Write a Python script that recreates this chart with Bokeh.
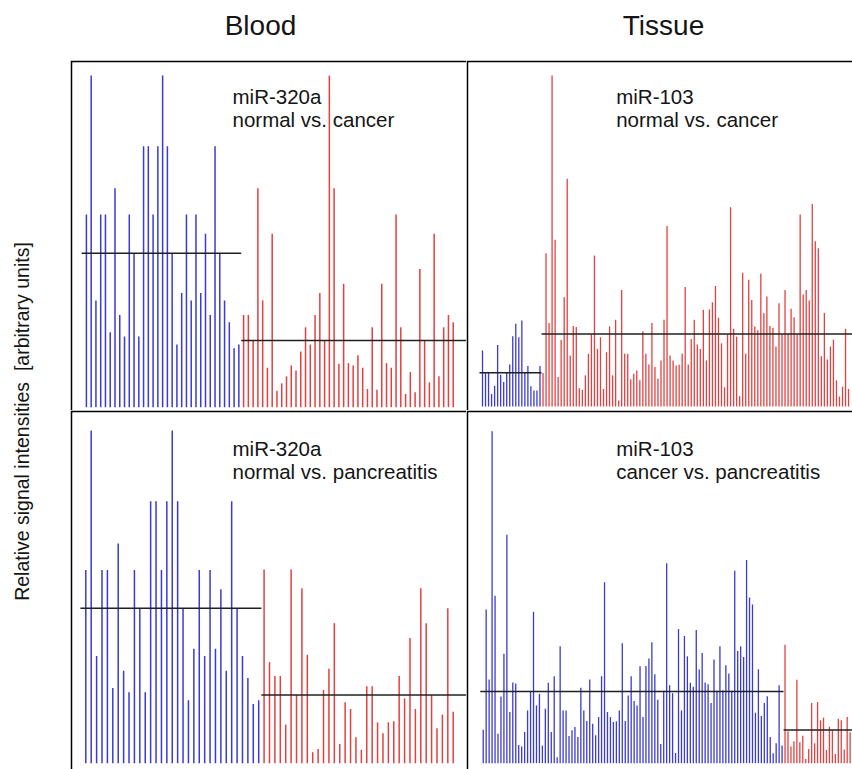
from bokeh.plotting import figure
from bokeh.models import ColumnDataSource, Range1d, Label
from bokeh.layouts import column, row
from bokeh.embed import file_html
from bokeh.resources import INLINE

# ---------------- data (relative signal intensities, arbitrary units) ----------------
blood_normal = [58.1, 100, 32.2, 58.1, 58.1, 22.6, 66.0, 27.8, 21.3, 58.1, 46.4, 21.3, 78.7,
                78.7, 58.1, 78.7, 100, 78.7, 46.4, 18.9, 34.4, 58.1, 32.2, 58.1, 34.4, 52.3,
                27.8, 78.7, 46.4, 32.2, 25.6, 17.8, 18.9]
blood_cancer = [27.8, 27.8, 20.1, 66.0, 32.2, 11.9, 52.3, 5.0, 7.2, 9.3, 12.6, 11.1, 16.8, 24.1,
                18.9, 27.8, 34.4, 20.1, 100, 66.0, 13.1, 37.2, 13.3, 12.6, 15.7, 11.9, 5.5, 24.1,
                5.3, 37.2, 13.3, 11.9, 58.1, 24.1, 4.0, 10.6, 4.5, 41.7, 20.1, 7.5, 52.3, 9.3,
                24.1, 27.8, 25.6]
blood_pancreatitis = [58.2, 30.4, 26.2, 26.2, 11.6, 58.2, 20.5, 52.6, 32.6, 3.3, 4.3, 22.0, 28.4,
                      42.1, 5.8, 18.3, 16.3, 7.8, 4.0, 23.1, 23.1, 12.3, 9.0, 12.3, 12.6, 26.2,
                      19.5, 37.6, 16.3, 52.6, 42.1, 20.5, 10.5, 14.6, 46.6, 15.5]
tissue_normal = [16.9, 10.1, 10.1, 3.8, 6.3, 18.6, 9.6, 7.4, 10.1, 12.7, 21.2, 25.0, 20.9, 26.0,
                 10.1, 12.2, 6.1, 4.8, 4.8, 12.2]
tissue_cancer = [10.1, 46.3, 25.2, 100, 50.4, 8.9, 20.1, 33.0, 68.8, 15.4, 24.3, 24.0, 5.5, 5.0,
                 9.4, 15.9, 21.8, 45.6, 17.4, 20.9, 5.3, 16.4, 24.2, 9.4, 26.2, 1.8, 35.2, 15.9,
                 15.9, 8.2, 9.9, 10.9, 7.9, 22.7, 15.9, 12.7, 25.2, 11.9, 8.4, 13.9, 26.2, 54.5,
                 15.4, 13.9, 12.4, 12.6, 15.9, 36.1, 12.7, 20.4, 26.2,
                 18.7, 17.4, 29.2, 13.9, 29.3, 31.5, 36.4, 26.8, 19.1, 5.8, 21.8, 60.2, 23.5,
                 21.1, 3.1, 40.4, 15.9, 38.3, 32.2, 24.2, 23.0, 40.1, 28.2, 33.2, 24.3, 23.8,
                 18.1, 31.2, 21.8, 35.2, 22.0, 29.5, 27.0, 21.8, 58.0, 33.8, 35.2, 32.0, 61.2,
                 49.9, 47.8, 15.2, 28.3, 14.2, 18.1, 20.2, 7.9, 3.0, 6.0, 23.5, 5.3]
tissue_pancreatitis = [35.7, 9.6, 5.0, 6.6, 25.1, 6.3, 8.3, 1.3, 4.3, 18.1, 6.0, 18.4, 12.9, 13.7,
                       4.0, 11.0, 9.8, 2.8, 13.4, 12.9, 4.1, 13.9, 9.3]

# mean levels as drawn (left group, right group) per panel
means_blood_nc = [46.4, 20.1]
means_blood_np = [46.6, 20.5]
means_tissue_nc = [10.2, 21.9]
means_tissue_cp = [21.6, 10.0]

column_titles = ["Blood", "Tissue"]
panel_titles = [["miR-320a", "normal vs. cancer"], ["miR-103", "normal vs. cancer"],
                ["miR-320a", "normal vs. pancreatitis"], ["miR-103", "cancer vs. pancreatitis"]]
y_title = "Relative signal intensities \u00a0[arbitrary units]"

FONT = "Liberation Sans"
BLUE = "#3a3ad6"
RED = "#e54040"
TXT = "#151515"


def panel(width, height, left, right, means, xr, yr, title, tx, ty, lw):
    p = figure(width=width, height=height, output_backend="svg", toolbar_location=None,
               x_axis_type=None, y_axis_type=None,
               x_range=Range1d(*xr), y_range=Range1d(*yr),
               min_border=0, min_border_left=2, min_border_top=2)
    p.outline_line_color = None
    p.border_fill_color = "black"
    p.background_fill_color = "white"
    n1, n2 = len(left), len(right)
    s1 = ColumnDataSource(dict(x=list(range(n1)), y=left))
    s2 = ColumnDataSource(dict(x=list(range(n1, n1 + n2)), y=right))
    p.segment(x0="x", y0=0, x1="x", y1="y", source=s1, line_color=BLUE, line_width=lw)
    p.segment(x0="x", y0=0, x1="x", y1="y", source=s2, line_color=RED, line_width=lw)
    p.segment(x0=[-1, n1 - 0.5], x1=[n1 - 0.5, n1 + n2 + 6], y0=means, y1=means,
              line_color="#202020", line_width=1.5)
    for k, t in enumerate(title):
        p.add_layout(Label(x=tx, y=ty - 23.3 * k, x_units="screen", y_units="screen", text=t,
                           text_font=FONT, text_font_size="20.5px", text_color=TXT))
    return p


p1 = panel(396, 350, blood_normal, blood_cancer, means_blood_nc,
           (-2.92, 79.79), (-0.99, 103.92), panel_titles[0], 160, 303, 1.5)
p3 = panel(386, 350, tissue_normal, tissue_cancer, means_tissue_nc,
           (-4.63, 122.3), (-1.21, 103.93), panel_titles[1], 147.7, 303, 1.3)
p5 = panel(396, 359, blood_normal, blood_pancreatitis, means_blood_np,
           (-2.46, 70.46), (-1.89, 105.41), panel_titles[2], 160, 310, 1.5)
p7 = panel(386, 359, tissue_cancer, tissue_pancreatitis, means_tissue_cp,
           (-4.97, 124.8), (-1.9, 105.63), panel_titles[3], 147.7, 310, 1.3)


def blank(width, height):
    f = figure(width=width, height=height, output_backend="svg", toolbar_location=None,
               x_axis_type=None, y_axis_type=None, min_border=0,
               x_range=Range1d(0, 1), y_range=Range1d(0, 1))
    f.outline_line_color = None
    f.border_fill_color = "white"
    f.background_fill_color = "white"
    return f


header = blank(852, 60)
for cx, t in zip([260, 663], column_titles):
    header.add_layout(Label(x=cx, y=20, x_units="screen", y_units="screen", text=t,
                            text_align="center",
                            text_font=FONT, text_font_size="28px", text_color=TXT))

ylab = blank(70, 709)
ylab.add_layout(Label(x=21, y=348, x_units="screen", y_units="screen", text=y_title,
                      angle=90, angle_units="deg", text_align="center", text_baseline="middle",
                      text_font=FONT, text_font_size="19.5px", text_color=TXT))

layout = column(header, row(ylab, column(row(p1, p3), row(p5, p7))))

open("out.html", "w").write(file_html(layout, INLINE))
